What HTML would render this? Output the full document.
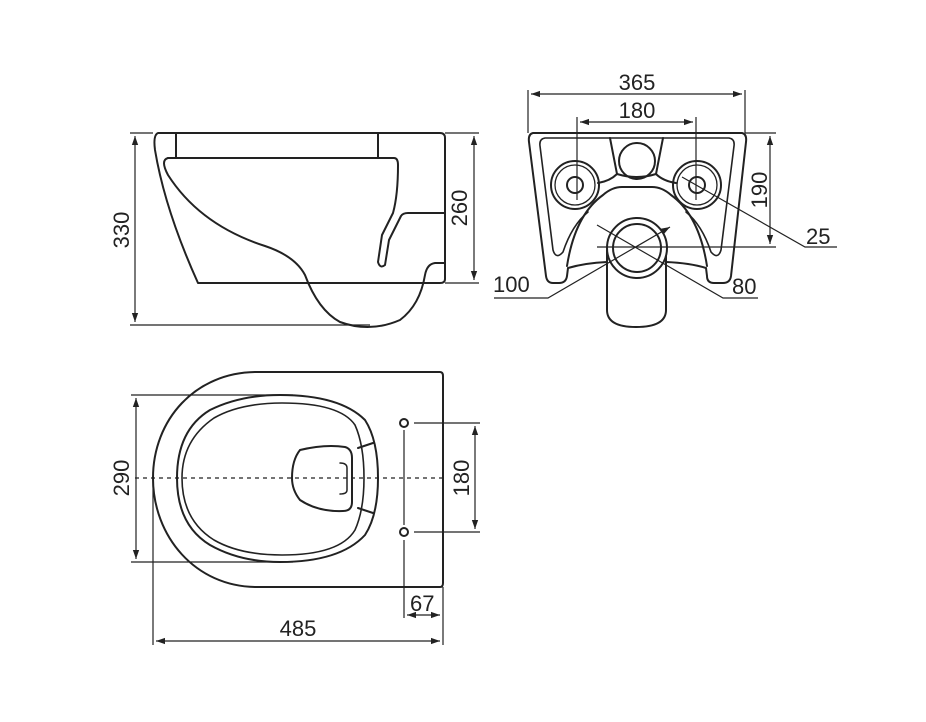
<!DOCTYPE html>
<html><head><meta charset="utf-8"><style>
html,body{margin:0;padding:0;background:#fff;}
svg{display:block;}
text{font-family:"Liberation Sans",Arial,sans-serif;font-size:22px;fill:#222;}
</style></head><body>
<svg width="926" height="722" viewBox="0 0 926 722" xmlns="http://www.w3.org/2000/svg">
<defs>
<marker id="a" viewBox="0 0 10 10" refX="10" refY="5" markerWidth="9" markerHeight="9" orient="auto-start-reverse" markerUnits="userSpaceOnUse"><path d="M0,1.5 L10,5 L0,8.5z" fill="#222"/></marker>
</defs>
<g fill="none" stroke="#222" stroke-width="2" stroke-linejoin="round" stroke-linecap="round">
<path d="M158,133 L440,133 Q445,133 445,138 L445,279 Q445,283 440,283 L198,283 Q165,210 155,150 Q153,135 158,133Z"/>
<path d="M176,134 L176,158 M378,134 L378,158"/>
<path d="M168,158 L394,158 Q398,158 398,165 Q398,195 393,213 L382,235 L378,262 Q380,269 385,265 L389,240 L401,216 Q403,213 408,213 L445,213"/>
<path d="M168,158 Q160,160 168,175 Q200,225 265,246 Q295,256 305,275 Q318,310 340,322 Q370,333 400,320 Q420,305 425,275 Q427,264 435,263 L445,263"/>
<path d="M533,133 L742,133 Q747,134 746,142 L731,276 Q730,283 723,283 L714,283 Q707,283 707,276 L706,268 Q690,263 666,262 M607,262 Q585,263 568,268 L567,276 Q566,283 559,283 L553,283 Q547,283 546,276 L529,142 Q528,134 533,133"/>
<path d="M545,138 L729,138 Q735,139 734,146 L721,250 Q718,260 711,252 Q702,225 686,212 M545,138 Q539,139 540,146 L553,250 Q556,260 563,252 Q572,225 588,212" stroke-width="1.6"/>
<path d="M567,266 Q575,215 603,195 Q612,187 622,187 L652,187 Q662,187 671,195 Q699,215 707,266"/>
<path d="M610,138 L617,174 Q610,181 598,183 M663,138 L656,174 Q663,181 676,183"/>
<path d="M617,174 Q637,180 656,174"/>
<circle cx="637" cy="161" r="18"/>
<circle cx="575" cy="185" r="24"/><circle cx="575" cy="185" r="20" stroke-width="1.3"/><circle cx="575" cy="185" r="8"/>
<circle cx="697" cy="185" r="24"/><circle cx="697" cy="185" r="20" stroke-width="1.3"/><circle cx="697" cy="185" r="8"/>
<path d="M607,250 L607,310 Q607,327 636,327 Q666,327 666,310 L666,250"/>
<circle cx="637" cy="248" r="30" fill="#fff"/><circle cx="637" cy="248" r="24"/>
<path d="M257,372 L440,372 Q443,372 443,376 L443,583 Q443,587 440,587 L257,587 C195,587 153,536 153,478 C153,420 195,372 257,372Z"/>
<path d="M280,395 Q240,395 210,410 Q177,430 177,478 Q177,525 210,545 Q240,562 280,562 Q340,562 365,535 Q378,515 378,478 Q378,440 365,420 Q340,395 280,395Z"/>
<path d="M282,403 Q240,403 214,418 Q182,440 182,478 Q182,520 214,540 Q240,555 282,555 Q340,555 355,530 Q364,510 364,478 Q364,445 355,425 Q340,403 282,403Z" stroke-width="1.6"/>
<path d="M358,448 L373,443 M358,508 L373,513"/>
<path d="M300,450 Q325,444 345,447 Q352,449 352,458 L352,502 Q352,511 343,511 Q318,512 300,500 Q292,490 292,478 Q292,460 300,450Z"/>
<path d="M340,463 Q347,463 347,468 L347,490 Q347,494 340,494" stroke-width="1.5"/>
<circle cx="404" cy="423" r="4"/><circle cx="404" cy="532" r="4"/>
</g>
<g fill="none" stroke="#222" stroke-width="1.2">
<path d="M130,133 L153,133 M130,325 L370,325 M445,133 L479,133 M445,283 L479,283"/>
<path d="M135,136 L135,322" marker-start="url(#a)" marker-end="url(#a)"/>
<path d="M474,136 L474,280" marker-start="url(#a)" marker-end="url(#a)"/>
<path d="M528,90 L528,133 M745,90 L745,133 M577,117 L577,200 M696,117 L696,200 M745,133 L776,133 M597,247 L776,247"/>
<path d="M531,94 L742,94" marker-start="url(#a)" marker-end="url(#a)"/>
<path d="M580,122 L693,122" marker-start="url(#a)" marker-end="url(#a)"/>
<path d="M770,136 L770,244" marker-start="url(#a)" marker-end="url(#a)"/>
<path d="M682,177 L805,247 L837,247"/>
<path d="M670,227 L548,298 L494,298" marker-start="url(#a)"/>
<path d="M597,225 L723,298 L758,298"/>
<path d="M131,395 L293,395 M131,562 L293,562 M414,423 L480,423 M414,532 L480,532 M404,540 L404,618 M443,587 L443,645 M153,478 L153,645 M404,430 L404,525"/>
<path d="M135,478 L443,478" stroke-dasharray="4,4"/>
<path d="M136,398 L136,559" marker-start="url(#a)" marker-end="url(#a)"/>
<path d="M475,426 L475,529" marker-start="url(#a)" marker-end="url(#a)"/>
<path d="M407,615 L440,615" marker-start="url(#a)" marker-end="url(#a)"/>
<path d="M156,641 L440,641" marker-start="url(#a)" marker-end="url(#a)"/>
</g>
<text x="637" y="90" text-anchor="middle">365</text>
<text x="637" y="118" text-anchor="middle">180</text>
<text x="806" y="244">25</text>
<text x="493" y="292">100</text>
<text x="732" y="294">80</text>
<text transform="translate(767,190) rotate(-90)" text-anchor="middle">190</text>
<text transform="translate(129,230) rotate(-90)" text-anchor="middle">330</text>
<text transform="translate(467,208) rotate(-90)" text-anchor="middle">260</text>
<text transform="translate(129,478) rotate(-90)" text-anchor="middle">290</text>
<text transform="translate(469,478) rotate(-90)" text-anchor="middle">180</text>
<text x="410" y="611">67</text>
<text x="298" y="636" text-anchor="middle">485</text>
</svg>
</body></html>
